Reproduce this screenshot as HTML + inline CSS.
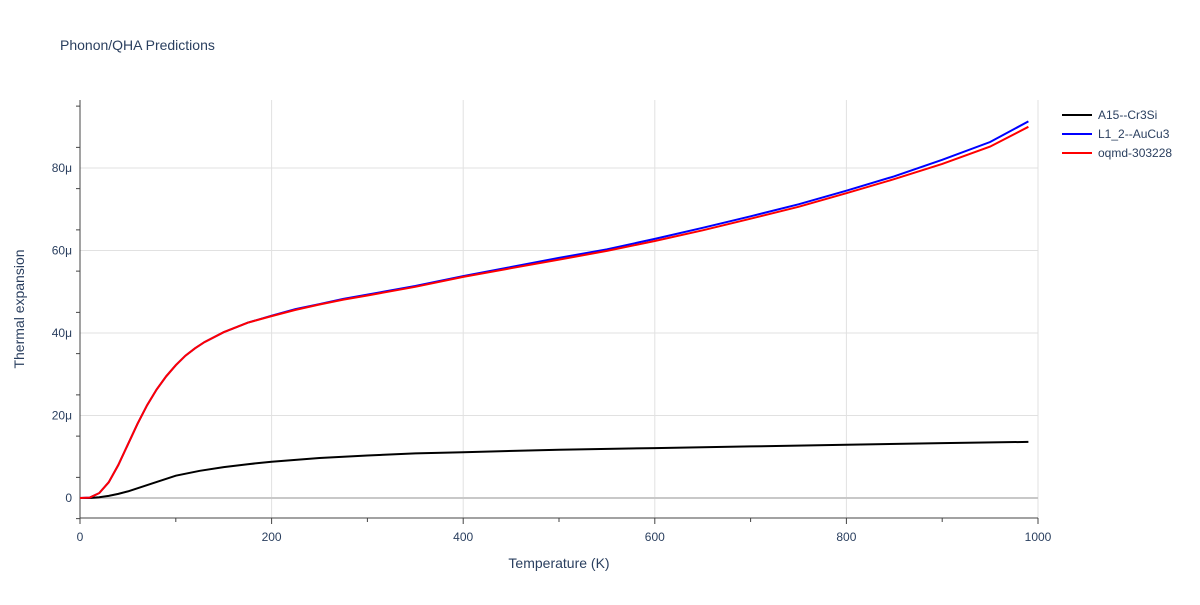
<!DOCTYPE html>
<html><head><meta charset="utf-8"><style>
body{margin:0;background:#fff;font-family:"Liberation Sans",sans-serif;}
svg text{font-family:"Liberation Sans",sans-serif;fill:#2a3f5f;}
</style></head><body>
<svg id="c" width="1200" height="600" xmlns="http://www.w3.org/2000/svg">
<text x="60" y="50" font-size="14">Phonon/QHA Predictions</text>
<text x="559" y="568" font-size="14" text-anchor="middle">Temperature (K)</text>
<text transform="translate(24,309) rotate(-90)" font-size="14" text-anchor="middle">Thermal expansion</text>
<g id="grid"></g><g id="series"></g><g id="legend"></g>
</svg>
<script>
const seriesNames=["A15--Cr3Si","L1_2--AuCu3","oqmd-303228"];
const seriesColors=["#000000","#0000ff","#ff0000"];
const tA=[0,10,20,30,40,50,75,100,125,150,175,200,250,300,350,400,500,600,700,800,900,990];
const yA=[0,0,0.2,0.5,1,1.6,3.5,5.4,6.6,7.5,8.2,8.8,9.7,10.3,10.8,11.1,11.7,12.1,12.5,12.9,13.3,13.6];
const tB=[0,10,20,30,40,50,60,70,80,90,100,110,120,130,150,175,200,225,250,275,300,350,400,450,500,550,600,650,700,750,800,850,900,950,990];
const yB=[0,0.1,1.2,3.8,8,13,18,22.5,26.3,29.5,32.2,34.5,36.3,37.8,40.2,42.5,44.2,45.8,47,48.3,49.3,51.4,53.8,56,58.2,60.3,62.8,65.5,68.3,71.2,74.5,78,82,86.3,91.3];
const yC=[0,0.1,1.2,3.8,8,13,18,22.5,26.3,29.5,32.2,34.5,36.3,37.8,40.2,42.5,44.1,45.6,46.9,48.1,49.1,51.2,53.6,55.7,57.8,59.9,62.3,64.9,67.7,70.6,73.9,77.3,81,85.2,90];
const xTicks=[0,200,400,600,800,1000];
const yTicks=[0,20,40,60,80];
const yTickLabels=["0","20μ","40μ","60μ","80μ"];
const X=t=>80+t*0.958, Y=v=>498-v*4.125;
const NS="http://www.w3.org/2000/svg";
function mk(tag,attrs,parent){const e=document.createElementNS(NS,tag);for(const k in attrs)e.setAttribute(k,attrs[k]);parent.appendChild(e);return e;}
const g=document.getElementById('grid');
xTicks.forEach(t=>{
 if(t>0){const l=mk('line',{x1:X(t),x2:X(t),y1:100,y2:518,stroke:'#e1e1e1'},g);
 
 }
 const tx=mk('text',{x:X(t),y:541,'font-size':12,'text-anchor':'middle'},g);tx.textContent=t;
 
 
});
for(let t=0;t<=1000;t+=100){const k=mk('line',{x1:X(t),x2:X(t),y1:518,y2:t%200?522:524,stroke:'#444'},g);
 
 }
yTicks.forEach((v,i)=>{
 const l=mk('line',{x1:80,x2:1038,y1:Y(v),y2:Y(v),stroke:v===0?'#c8c8c8':'#e1e1e1','stroke-width':v===0?2:1},g);
 
 
 const tx=mk('text',{x:72,y:Y(v)+4,'font-size':12,'text-anchor':'end'},g);tx.textContent=yTickLabels[i];
 
 
});
for(let v=-5;v<=95;v+=10){const k=mk('line',{x1:76,x2:80,y1:Y(v),y2:Y(v),stroke:'#444'},g);
 
 }
const ax=mk('line',{x1:80,x2:80,y1:100,y2:518,stroke:'#444'},g);


const ax2=mk('line',{x1:80,x2:1038,y1:518,y2:518,stroke:'#444'},g);


const s=document.getElementById('series');
[[tA,yA],[tB,yB],[tB,yC]].forEach((d,i)=>{
 const p=mk('path',{d:d[0].map((t,j)=>(j?'L':'M')+X(t).toFixed(1)+','+Y(d[1][j]).toFixed(1)).join(''),fill:'none',stroke:seriesColors[i],'stroke-width':2},s);
 
 
});
const lg=document.getElementById('legend');
seriesNames.forEach((n,i)=>{
 const y=115+i*19;
 const l=mk('line',{x1:1062,x2:1092,y1:y,y2:y,stroke:seriesColors[i],'stroke-width':2},lg);
 
 
 const t=mk('text',{x:1098,y:y+4,'font-size':12},lg);t.textContent=n;
 
 
});
</script>
</body></html>
